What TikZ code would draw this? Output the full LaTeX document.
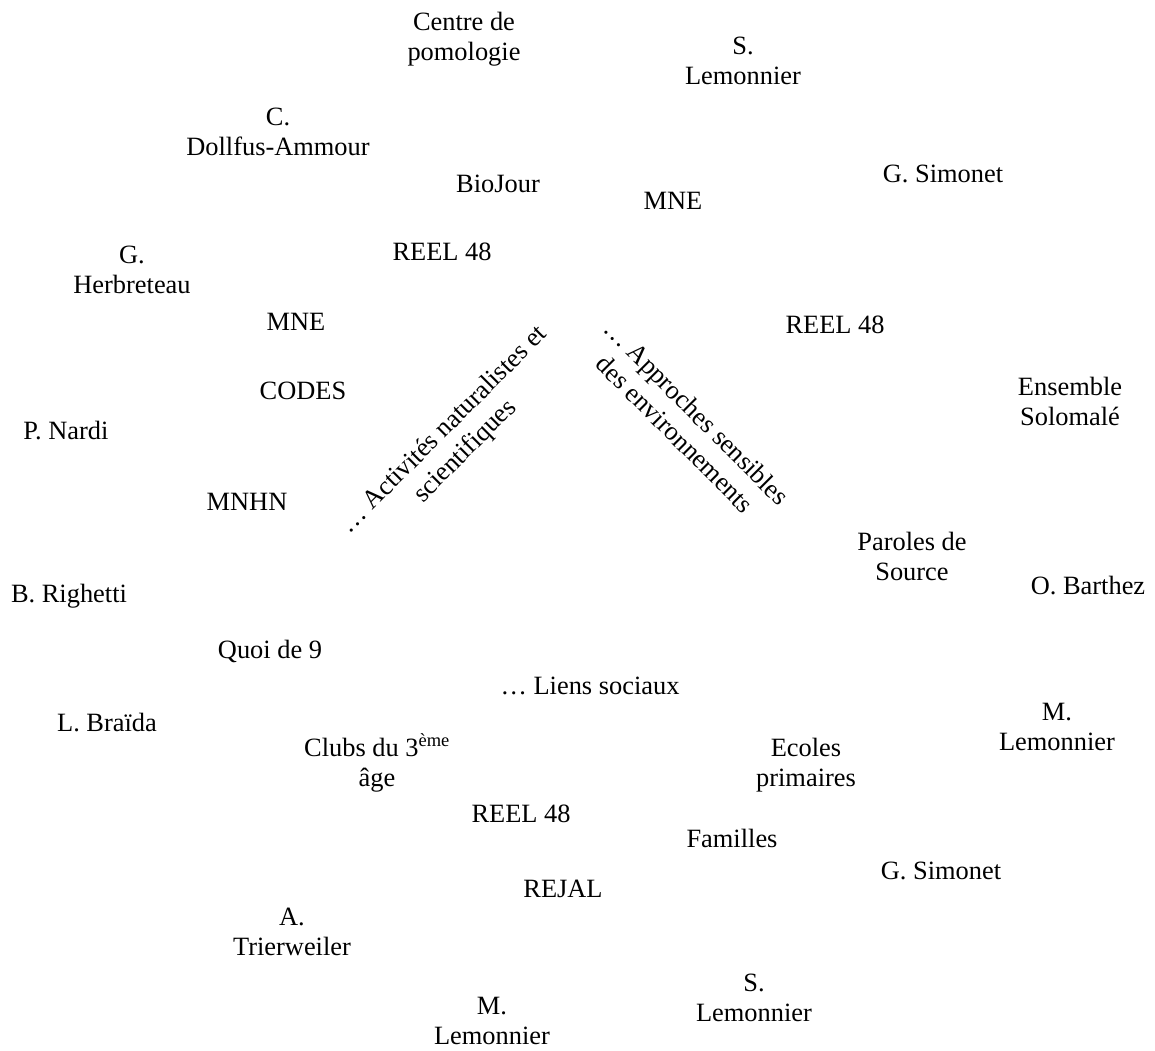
\documentclass[tikz,border=0pt]{standalone}
\usepackage{fontspec}
\setmainfont{Liberation Serif}
\newcommand{\twol}[2]{\vtop{\halign{\hfil##\hfil\cr#1\cr#2\cr}}}
\begin{document}
\begin{tikzpicture}[x=1pt,y=1pt,
  lbl/.style={anchor=base, inner sep=0pt, font=\fontsize{26.4}{30.5}\selectfont},
  rot/.style={anchor=center, inner sep=0pt, font=\fontsize{26.4}{30.5}\selectfont}]
\useasboundingbox (0,0) rectangle (1155,-1050);
% top
\node[lbl] (cp) at (464,-30) {\twol{Centre de}{pomologie}};
\node[lbl] (sl1) at (743,-54) {\twol{S.}{Lemonnier}};
\node[lbl] (cd) at (278,-125) {\twol{C.}{Dollfus-Ammour}};
\node[lbl] (bio) at (498,-192) {BioJour};
\node[lbl] (mne1) at (673,-209) {MNE};
\node[lbl] (gs1) at (943,-182) {G. Simonet};
\node[lbl] (gh) at (132,-263) {\twol{G.}{Herbreteau}};
\node[lbl] (reel1) at (442,-260) {REEL 48};
\node[lbl] (mne2) at (296,-330) {MNE};
\node[lbl] (reel2) at (835,-333) {REEL 48};
\node[lbl] (codes) at (303,-399) {CODES};
\node[lbl] (ens) at (1070,-395) {\twol{Ensemble}{Solomalé}};
\node[lbl] (pn) at (66,-439) {P. Nardi};
\node[lbl] (mnhn) at (247,-510) {MNHN};
\node[lbl] (ps) at (912,-550) {\twol{Paroles de}{Source}};
\node[lbl] (ob) at (1088,-594) {O. Barthez};
\node[lbl] (br) at (69,-602) {B. Righetti};
\node[lbl] (q9) at (270,-658) {Quoi de 9};
\node[lbl] (ls) at (590,-694) {… Liens sociaux};
\node[lbl] (ml1) at (1057,-720) {\twol{M.}{Lemonnier}};
\node[lbl] (lb) at (107,-731) {L. Braïda};
\node[lbl] (clubs) at (377,-756) {\twol{Clubs du 3\textsuperscript{ème}}{âge}};
\node[lbl] (ec) at (806,-756) {\twol{Ecoles}{primaires}};
\node[lbl] (reel3) at (521,-822) {REEL 48};
\node[lbl] (fam) at (732,-847) {Familles};
\node[lbl] (gs2) at (941,-879) {G. Simonet};
\node[lbl] (rejal) at (563,-897) {REJAL};
\node[lbl] (at) at (292,-925) {\twol{A.}{Trierweiler}};
\node[lbl] (sl2) at (754,-991) {\twol{S.}{Lemonnier}};
\node[lbl] (ml2) at (492,-1014) {\twol{M.}{Lemonnier}};
% rotated
\node[rot, rotate=45] (act) at (455,-441) {\twol{… Activités naturalistes et}{scientifiques}};
\node[rot, rotate=-45] (app) at (686,-423) {\twol{… Approches sensibles}{des environnements}};
\end{tikzpicture}
\end{document}
